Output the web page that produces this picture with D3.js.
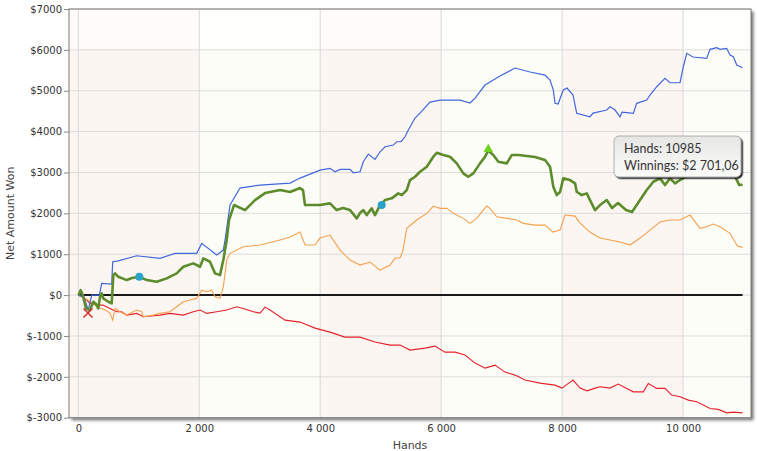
<!DOCTYPE html>
<html>
<head>
<meta charset="utf-8">
<script src="https://cdn.jsdelivr.net/npm/d3@7"></script>
<style>
  html, body { margin: 0; padding: 0; background: #ffffff; }
  svg { display: block; }
</style>
</head>
<body>
<svg id="chart" width="757" height="451"></svg>
<script>
// ---------- DATA ----------
const xTicks = [0, 2000, 4000, 6000, 8000, 10000];
const yTicks = [-3000, -2000, -1000, 0, 1000, 2000, 3000, 4000, 5000, 6000, 7000];
const xTitle = "Hands";
const yTitle = "Net Amount Won";
const tooltipLines = ["Hands: 10985", "Winnings: $2 701,06"];

const breakEven = [[0, 0], [10985, 0]];

const showdown = [
  [0,0],[94,-49],[165,-367],[222,0],[347,0],[387,286],[552,269],[569,815],[661,839],[966,962],
  [1351,898],[1599,1021],[1958,1021],[2041,1265],[2289,979],[2398,1101],[2426,1346],[2509,2203],
  [2674,2619],[3005,2692],[3501,2741],[3667,2863],[3997,3059],[4162,3101],[4245,3018],[4328,3076],
  [4493,3076],[4548,2993],[4659,3018],[4713,3263],[4796,3451],[4906,3321],[4990,3507],[5072,3629],
  [5209,3671],[5265,3752],[5337,3752],[5403,3874],[5457,4038],[5568,4332],[5651,4454],[5816,4723],
  [5982,4772],[6313,4772],[6478,4699],[6561,4821],[6726,5140],[6974,5360],[7222,5556],[7470,5458],
  [7718,5384],[7801,5262],[7855,5017],[7883,4692],[7933,4675],[8020,5017],[8082,5066],[8181,4895],
  [8242,4447],[8462,4364],[8512,4454],[8738,4528],[8793,4608],[8876,4528],[8958,4364],[8991,4479],
  [9178,4447],[9234,4692],[9400,4772],[9454,4895],[9565,5098],[9702,5303],[9785,5196],[9950,5196],
  [10005,5587],[10061,5915],[10165,5825],[10392,5793],[10446,6013],[10557,6052],[10612,6013],
  [10722,6038],[10777,5874],[10832,5832],[10888,5629],[10985,5563]
];

const netWon = [
  [0,0],[17,42],[40,122],[78,-24],[127,-326],[193,-367],[248,-164],[293,-220],[331,-326],[359,-42],
  [387,42],[413,-81],[496,-164],[552,-203],[579,489],[607,531],[661,448],[800,367],[888,416],
  [1009,448],[1131,367],[1297,326],[1462,409],[1627,531],[1736,693],[1902,776],[2013,693],[2067,898],
  [2178,815],[2261,531],[2343,489],[2398,857],[2454,1346],[2492,1836],[2575,2203],[2757,2080],
  [2922,2325],[3088,2496],[3336,2570],[3501,2521],[3667,2619],[3716,2570],[3749,2203],[3997,2203],
  [4162,2244],[4273,2080],[4377,2129],[4493,2080],[4604,1877],[4659,2007],[4713,2080],[4769,1958],
  [4851,2122],[4906,1958],[4990,2203],[5072,2325],[5183,2367],[5292,2489],[5348,2447],[5431,2570],
  [5485,2815],[5568,2895],[5651,3018],[5762,3140],[5871,3385],[5927,3483],[6036,3426],[6147,3385],
  [6258,3223],[6367,2978],[6449,2895],[6532,2978],[6643,3223],[6726,3385],[6780,3532],[6863,3426],
  [6946,3262],[7085,3223],[7167,3426],[7276,3426],[7415,3402],[7552,3377],[7718,3304],[7801,3140],
  [7855,2650],[7911,2447],[7966,2521],[8020,2856],[8131,2815],[8214,2734],[8242,2528],[8325,2447],
  [8408,2489],[8462,2325],[8545,2080],[8628,2203],[8738,2325],[8826,2129],[8925,2252],[9057,2080],
  [9156,2031],[9289,2325],[9400,2570],[9509,2773],[9620,2856],[9702,2692],[9785,2856],[9868,2734],
  [9950,2815],[10115,2961],[10281,3059],[10446,2961],[10612,2912],[10777,3010],[10876,2856],
  [10931,2692],[10985,2701]
];

const allInEV = [
  [0,0],[61,-49],[160,-122],[276,-245],[359,-318],[442,-367],[524,-440],[569,-612],[607,-326],
  [689,-408],[800,-490],[966,-367],[1048,-408],[1075,-531],[1240,-490],[1351,-448],[1516,-408],
  [1627,-286],[1736,-164],[1847,-122],[1958,-81],[2041,122],[2123,81],[2206,122],[2261,-42],
  [2343,-81],[2398,203],[2454,857],[2509,1021],[2729,1182],[3005,1224],[3336,1346],[3501,1419],
  [3667,1542],[3749,1224],[3915,1224],[3997,1395],[4162,1468],[4328,1101],[4493,857],[4659,734],
  [4824,808],[4990,612],[5155,734],[5238,906],[5320,906],[5370,1101],[5431,1632],[5596,1836],
  [5762,2000],[5871,2178],[5982,2122],[6092,2122],[6201,2000],[6367,1877],[6478,1755],[6588,1877],
  [6697,2080],[6754,2178],[6808,2122],[6919,1916],[7085,1877],[7250,1836],[7359,1755],[7552,1713],
  [7718,1713],[7850,1542],[7966,1591],[8049,1958],[8214,1933],[8297,1762],[8462,1542],[8628,1395],
  [8793,1346],[8958,1297],[9123,1224],[9289,1395],[9454,1591],[9620,1787],[9785,1836],[9950,1836],
  [10115,1958],[10281,1632],[10392,1672],[10501,1738],[10612,1672],[10777,1510],[10860,1305],
  [10898,1199],[10985,1167]
];

const nonShowdown = [
  [0,0],[111,-81],[193,-203],[304,-245],[408,-245],[524,-326],[635,-408],[718,-408],[800,-490],
  [966,-448],[1075,-531],[1351,-490],[1516,-448],[1736,-490],[1902,-408],[2013,-367],[2123,-448],
  [2289,-408],[2454,-367],[2620,-286],[2729,-326],[2894,-408],[3005,-440],[3088,-294],[3170,-367],
  [3419,-612],[3667,-661],[3915,-808],[4162,-906],[4410,-1028],[4659,-1028],[4906,-1150],
  [5155,-1224],[5320,-1224],[5485,-1346],[5733,-1297],[5899,-1248],[6064,-1395],[6230,-1395],
  [6395,-1468],[6561,-1664],[6726,-1787],[6892,-1713],[7057,-1884],[7222,-1958],[7387,-2080],
  [7635,-2154],[7883,-2203],[7999,-2276],[8065,-2203],[8181,-2080],[8297,-2276],[8413,-2342],
  [8545,-2276],[8628,-2244],[8793,-2276],[8929,-2178],[9069,-2283],[9178,-2367],[9343,-2367],
  [9426,-2161],[9565,-2283],[9702,-2283],[9813,-2447],[9950,-2489],[10088,-2570],[10226,-2611],
  [10336,-2692],[10446,-2773],[10584,-2797],[10722,-2881],[10832,-2863],[10985,-2881]
];

// markers: [hands, value]
const crossMarks = [[160, -440]];
const circleMarks = [[1009, 448], [5017, 2203]];
const triangleMarks = [[6780, 3570]];

// ---------- DRAW ----------
const svg = d3.select("#chart");
const L = 69, R = 751, T = 9, B = 417.7;
const x = d3.scaleLinear().domain([-154, 11124]).range([L, R]);
const y = d3.scaleLinear().domain([-3000, 7000]).range([B, T]);

const defs = svg.append("defs");
const f = defs.append("filter").attr("id", "shadow").attr("x", "-5%").attr("y", "-5%").attr("width", "110%").attr("height", "110%");
f.append("feDropShadow").attr("dx", 2.5).attr("dy", 2.5).attr("stdDeviation", 1.5).attr("flood-color", "#000").attr("flood-opacity", 0.55);
const tf = defs.append("filter").attr("id", "tshadow").attr("x", "-10%").attr("y", "-20%").attr("width", "125%").attr("height", "150%");
tf.append("feDropShadow").attr("dx", 1.5).attr("dy", 1.5).attr("stdDeviation", 0.6).attr("flood-color", "#000").attr("flood-opacity", 0.9);
const tg = defs.append("linearGradient").attr("id", "tgrad").attr("x1", 0).attr("y1", 0).attr("x2", 0).attr("y2", 1);
tg.append("stop").attr("offset", "0%").attr("stop-color", "#e6e6e4");
tg.append("stop").attr("offset", "100%").attr("stop-color", "#fbfbfa");

// plot background w/ shadow
svg.append("rect").attr("x", L).attr("y", T).attr("width", R - L).attr("height", B - T)
  .attr("fill", "#fdfdf8").attr("filter", "url(#shadow)");

// stripes between vertical grid lines (0-2000 pink, 2000-4000 cream, ...)
const bounds = [x.domain()[0]].concat(xTicks.slice(1)).concat([x.domain()[1]]);
const stripes = [];
for (let i = 0; i < bounds.length - 1; i++) stripes.push({a: bounds[i], b: bounds[i + 1], i});
svg.append("g").selectAll("rect").data(stripes).join("rect")
  .attr("x", d => x(d.a)).attr("y", T).attr("width", d => x(d.b) - x(d.a)).attr("height", B - T)
  .attr("fill", d => (d.i % 2 === 0) ? "#fcf6f3" : "#fdfdf8");
// top band lighter
svg.append("rect").attr("x", L).attr("y", T).attr("width", R - L).attr("height", y(6000) - T)
  .attr("fill", "#ffffff").attr("opacity", 0.5);

// grid
const grid = svg.append("g");
grid.selectAll("line.h").data(yTicks).join("line").attr("class", "h")
  .attr("x1", L).attr("x2", R).attr("y1", d => y(d)).attr("y2", d => y(d))
  .attr("stroke", "#dcdcdc").attr("stroke-width", 1);
grid.selectAll("line.v").data(xTicks).join("line").attr("class", "v")
  .attr("x1", d => x(d)).attr("x2", d => x(d)).attr("y1", T).attr("y2", B)
  .attr("stroke", "#d8d8d8").attr("stroke-width", 1);

// border
svg.append("rect").attr("x", L).attr("y", T).attr("width", R - L).attr("height", B - T)
  .attr("fill", "none").attr("stroke", "#7a7a7a").attr("stroke-width", 1);

// axes
const yAxis = d3.axisLeft(y).tickValues(yTicks).tickSize(5).tickPadding(2)
  .tickFormat(d => "$" + d);
const ga = svg.append("g").attr("transform", `translate(${L},0)`).call(yAxis);
ga.select(".domain").remove();
ga.selectAll(".tick line").attr("stroke", "#888");
ga.selectAll("text").attr("font-family", "DejaVu Sans, Verdana, sans-serif").attr("font-size", "10px").attr("fill", "#333");

const xAxis = d3.axisBottom(x).tickValues(xTicks).tickSize(0).tickPadding(7)
  .tickFormat(d => d3.format(",")(d).replace(/,/g, " "));
const gx = svg.append("g").attr("transform", `translate(0,${B})`).call(xAxis);
gx.select(".domain").remove();
gx.selectAll("text").attr("font-family", "DejaVu Sans, Verdana, sans-serif").attr("font-size", "10px").attr("fill", "#333");

svg.append("text").attr("x", (L + R) / 2).attr("y", 449).attr("text-anchor", "middle")
  .attr("font-family", "DejaVu Sans, Verdana, sans-serif").attr("font-size", "11px").attr("fill", "#444").text(xTitle);
svg.append("text").attr("transform", `translate(14,${(T + B) / 2}) rotate(-90)`).attr("text-anchor", "middle")
  .attr("font-family", "DejaVu Sans, Verdana, sans-serif").attr("font-size", "11px").attr("fill", "#444").text(yTitle);

// lines
const line = d3.line().x(d => x(d[0])).y(d => y(d[1]));
const plot = svg.append("g");
plot.append("path").datum(breakEven).attr("d", line).attr("fill", "none").attr("stroke", "#1a1a1a").attr("stroke-width", 2);
plot.append("path").datum(nonShowdown).attr("d", line).attr("fill", "none").attr("stroke", "#e3212b").attr("stroke-width", 1.1);
plot.append("path").datum(allInEV).attr("d", line).attr("fill", "none").attr("stroke", "#f5a04c").attr("stroke-width", 1.1);
plot.append("path").datum(showdown).attr("d", line).attr("fill", "none").attr("stroke", "#4067dc").attr("stroke-width", 1.2);
plot.append("path").datum(netWon).attr("d", line).attr("fill", "none").attr("stroke", "#5c8c2c").attr("stroke-width", 2.6).attr("stroke-linejoin", "round");

// markers
crossMarks.forEach(d => {
  const cx = x(d[0]), cy = y(d[1]), s = 4.5;
  plot.append("path").attr("d", `M${cx - s},${cy - s}L${cx + s},${cy + s}M${cx - s},${cy + s}L${cx + s},${cy - s}`)
    .attr("stroke", "#d8302c").attr("stroke-width", 1.5).attr("fill", "none");
});
plot.selectAll("circle.m").data(circleMarks).join("circle").attr("class", "m")
  .attr("cx", d => x(d[0])).attr("cy", d => y(d[1])).attr("r", 4).attr("fill", "#2ba3c8");
plot.selectAll("path.tri").data(triangleMarks).join("path").attr("class", "tri")
  .attr("transform", d => `translate(${x(d[0])},${y(d[1])})`)
  .attr("d", d3.symbol().type(d3.symbolTriangle).size(40)).attr("fill", "#6fd21c");

// tooltip
const tip = svg.append("g").attr("transform", "translate(614,136)");
tip.append("rect").attr("width", 127).attr("height", 41).attr("rx", 5).attr("ry", 5)
  .attr("fill", "url(#tgrad)").attr("stroke", "#a0a0a0").attr("stroke-width", 0.8).attr("filter", "url(#tshadow)");
tip.selectAll("text").data(tooltipLines).join("text")
  .attr("x", 10).attr("y", (d, i) => 17 + i * 16.5)
  .attr("font-family", "Lato, 'Open Sans', sans-serif").attr("font-size", "12.5px").attr("fill", "#333")
  .text(d => d);
</script>
</body>
</html>
